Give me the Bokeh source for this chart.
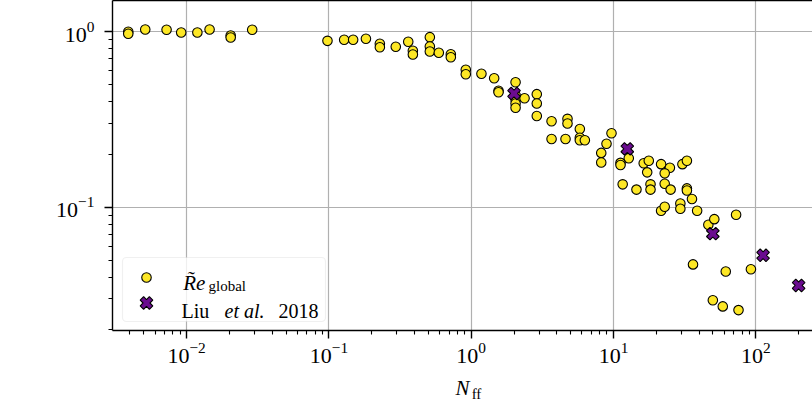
import numpy as np
from bokeh.plotting import figure
from bokeh.models import (Range1d, FixedTicker, LogAxis, LinearAxis, Label, BoxAnnotation, LinearScale)
from bokeh.embed import file_html
from bokeh.resources import INLINE

# ---- data ----
re_x = [0.00389, 0.00389, 0.00512, 0.00723, 0.00916, 0.0119, 0.0145, 0.0204, 0.0204, 0.0289,
        0.0977, 0.128, 0.148, 0.182, 0.228, 0.228, 0.295, 0.361, 0.389, 0.389,
        0.512, 0.512, 0.512, 0.592, 0.719, 0.719, 0.916, 0.916, 1.18, 1.45,
        1.556, 1.556, 2.05, 2.05, 2.05, 2.05, 2.05, 2.37, 2.89, 2.89,
        2.89, 3.67, 3.67, 4.60, 4.75, 4.75, 5.80, 5.80, 5.80, 6.29,
        9.68, 8.93, 8.20, 8.20, 12.8, 11.2, 11.2, 16.3, 17.7, 17.25,
        21.6, 24.9, 22.9, 30.5, 32.8, 11.6, 14.5, 18.2, 18.2, 22.9,
        25.2, 32.8, 32.8, 35.6, 21.6, 22.9, 29.5, 29.5, 38.7, 46.4,
        51.1, 72.7, 36.2, 61.5, 92.4, 49.9, 58.6, 75.6]
re_y = [1.00, 0.974, 1.03, 1.027, 0.99, 0.99, 1.03, 0.953, 0.928, 1.027,
        0.888, 0.900, 0.900, 0.912, 0.854, 0.817, 0.821, 0.877, 0.779, 0.742,
        0.932, 0.824, 0.772, 0.759, 0.745, 0.716, 0.607, 0.573, 0.576, 0.543,
        0.461, 0.452, 0.516, 0.435, 0.411, 0.390, 0.369, 0.418, 0.441, 0.390,
        0.331, 0.309, 0.245, 0.245, 0.319, 0.300, 0.279, 0.249, 0.241, 0.241,
        0.264, 0.230, 0.204, 0.180, 0.190, 0.179, 0.174, 0.178, 0.184, 0.158,
        0.176, 0.168, 0.156, 0.176, 0.184, 0.135, 0.126, 0.135, 0.126, 0.136,
        0.126, 0.128, 0.1245, 0.1114, 0.0954, 0.1005, 0.105, 0.098, 0.0954, 0.0794,
        0.0855, 0.0906, 0.0472, 0.0430, 0.0443, 0.0295, 0.0272, 0.0259]
liu_x = [2.0, 12.5, 49.9, 112.5, 200.0]
liu_y = [0.445, 0.215, 0.0707, 0.0532, 0.0358]

x_major_ticks = [0.01, 0.1, 1, 10, 100]
y_major_ticks = [0.1, 1]
x_minor_ticks = [m * 10.0 ** e for e in range(-3, 3) for m in range(2, 10)]
y_minor_ticks = [m * 10.0 ** e for e in range(-2, 1) for m in range(2, 10)]

X_START, X_END = 0.003014, 250.3
Y_START, Y_END = 0.01982, 1.508

FONT = "Liberation Serif"
YELLOW = "#fde725"
PURPLE = "#6a0c8f"
FRAME_W, FRAME_H = 700, 330

p = figure(frame_width=FRAME_W, frame_height=FRAME_H,
           x_axis_type="log", y_axis_type="log",
           x_range=Range1d(X_START, X_END), y_range=Range1d(Y_START, Y_END),
           output_backend="svg", toolbar_location=None,
           min_border_left=112, min_border_right=0, min_border_top=0, min_border_bottom=60)
p.outline_line_color = None
p.background_fill_color = "white"
p.border_fill_color = "white"

for ax, maj, mnr in ((p.xaxis[0], x_major_ticks, x_minor_ticks), (p.yaxis[0], y_major_ticks, y_minor_ticks)):
    ax.ticker = FixedTicker(ticks=maj, minor_ticks=mnr)
    ax.axis_line_color = "black"
    ax.axis_line_width = 1.4
    ax.major_tick_line_color = "black"
    ax.major_tick_line_width = 1.4
    ax.minor_tick_line_color = "black"
    ax.minor_tick_line_width = 1.1
    ax.major_tick_in = 0
    ax.minor_tick_in = 0
    ax.major_tick_out = 8
    ax.minor_tick_out = 4
    ax.major_label_text_font = FONT
    ax.major_label_text_font_size = "22px"
    ax.major_label_text_color = "black"

p.xaxis.major_label_standoff = 4
p.yaxis.major_label_standoff = 10

# x-axis label: italic N from the axis itself
p.xaxis.axis_label = "N"
p.xaxis.axis_label_text_font = FONT
p.xaxis.axis_label_text_font_style = "italic"
p.xaxis.axis_label_text_font_size = "21px"
p.xaxis.axis_label_text_color = "black"
p.xaxis.axis_label_standoff = 10

# pixel-space helper ranges (frame pixels) for the hand-made legend and the subscript
p.extra_x_ranges = {"px": Range1d(0, FRAME_W)}
p.extra_y_ranges = {"px": Range1d(0, FRAME_H)}
p.extra_x_scales = {"px": LinearScale()}
p.extra_y_scales = {"px": LinearScale()}

# roman subscript "ff" of the x label, drawn as the single tick label of a bare extra axis
FF_AT = 364
sub = LinearAxis(x_range_name="px", ticker=FixedTicker(ticks=[FF_AT], minor_ticks=[]),
                 major_label_overrides={FF_AT: "ff"},
                 major_tick_out=0, major_tick_in=0, minor_tick_out=0, minor_tick_in=0,
                 axis_line_color=None, major_label_standoff=-17,
                 major_label_text_font=FONT, major_label_text_font_size="15px",
                 major_label_text_color="black")
p.add_layout(sub, "below")

# top spine
top = LogAxis(ticker=FixedTicker(ticks=[]), major_tick_out=0, minor_tick_out=0,
              major_tick_in=0, minor_tick_in=0, major_label_standoff=0,
              major_label_text_font_size="0px", axis_line_color="black", axis_line_width=1.4)
p.add_layout(top, "above")

p.xgrid.grid_line_color = "#b0b0b0"
p.ygrid.grid_line_color = "#b0b0b0"
p.xgrid.grid_line_width = 1.2
p.ygrid.grid_line_width = 1.2

p.scatter(re_x, re_y, marker="circle", size=9.5, fill_color=YELLOW,
          line_color="black", line_width=1.1)
p.scatter(liu_x, liu_y, marker="plus", angle=np.pi / 4, size=13, fill_color=PURPLE,
          line_color="black", line_width=1.1)

# ---- legend (drawn by hand, in frame pixel space) ----
p.add_layout(BoxAnnotation(left=10, right=213, bottom=9, top=73,
                           left_units="screen", right_units="screen",
                           bottom_units="screen", top_units="screen",
                           fill_color="white", fill_alpha=0.8,
                           line_color="#cccccc", line_width=1.2, border_radius=4,
                           level="annotation"))
p.scatter(x=[34], y=[53], marker="circle", size=9.5, fill_color=YELLOW, line_color="black",
          line_width=1.1, x_range_name="px", y_range_name="px", level="overlay")
p.scatter(x=[34], y=[27.5], marker="plus", angle=np.pi / 4, size=13, fill_color=PURPLE,
          line_color="black", line_width=1.1, x_range_name="px", y_range_name="px", level="overlay")

def lab(x, y, text, size="20px", style="normal", angle=0.0, align="left", baseline="alphabetic"):
    p.add_layout(Label(x=x, y=y, x_units="screen", y_units="screen", text=text,
                       text_font=FONT, text_font_size=size, text_font_style=style,
                       text_color="black", angle=angle, text_align=align,
                       text_baseline=baseline, level="overlay"))

# y-axis label
lab(-90, 166, "R\u0303e", size="22px", style="italic", angle=np.pi / 2, align="center", baseline="middle")

# legend texts
lab(70.7, 47.7, "R\u0303e", size="21px", style="italic")
lab(96, 44.5, "global", size="15px")
lab(69, 19.3, "Liu")
lab(112, 19.3, "et al.", style="italic")
lab(166, 19.3, "2018")

open("out.html", "w").write(file_html(p, INLINE))
